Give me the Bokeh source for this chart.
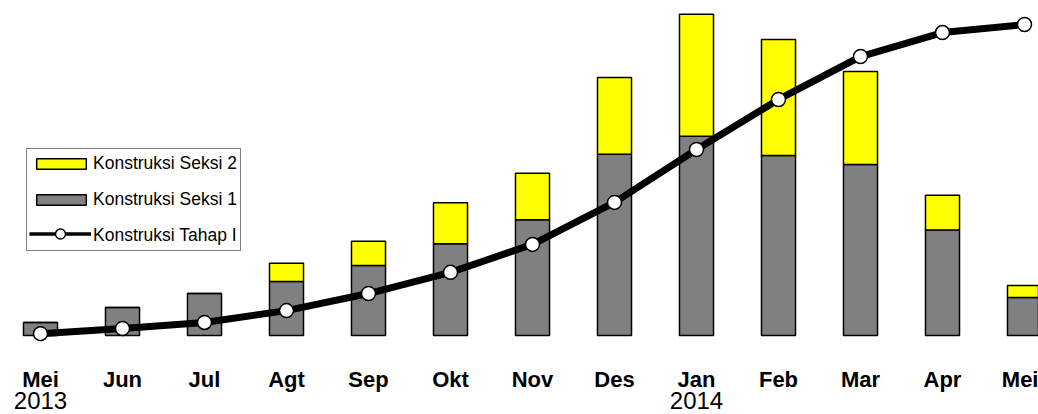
from bokeh.plotting import figure
from bokeh.models import Range1d, LinearAxis, FixedTicker, Legend, LegendItem, ColumnDataSource
from bokeh.embed import file_html
from bokeh.resources import INLINE

# ---- data ----
months = ["Mei", "Jun", "Jul", "Agt", "Sep", "Okt", "Nov", "Des", "Jan", "Feb", "Mar", "Apr", "Mei"]
years = ["2013", "2014"]
year_month_index = [0, 8]
seksi1 = [4.2, 9.0, 13.5, 17.4, 22.5, 29.5, 37.2, 58.3, 64.1, 57.9, 55.0, 33.9, 12.2]
seksi2 = [0.0, 0.0, 0.0, 5.8, 7.8, 13.2, 15.0, 24.7, 39.2, 37.3, 29.9, 11.2, 3.9]
tahap1 = [0.6, 2.25, 4.2, 8.0, 13.5, 20.3, 29.3, 42.8, 59.8, 75.9, 89.7, 97.4, 100.0]

xs = list(range(len(months)))
nan = float("nan")

p = figure(width=1038, height=414, output_backend="svg", toolbar_location=None,
           x_axis_type=None, y_axis_type=None,
           x_range=Range1d(-0.4878, 12.1707), y_range=Range1d(-1.93, 107.72),
           min_border_left=0, min_border_right=0, min_border_top=0, min_border_bottom=73)
p.outline_line_color = None
p.background_fill_color = "white"
p.border_fill_color = "white"

src = ColumnDataSource(dict(x=xs, s1=seksi1, s2=seksi2, t=tahap1))
bars = p.vbar_stack(["s1", "s2"], x="x", width=0.415, source=src,
                    fill_color=["#808080", "#FFFF00"], line_color="black", line_width=1.5)
p.line("x", "t", source=src, line_color="black", line_width=7)
p.scatter("x", "t", source=src, size=14, fill_color="white", line_color="black", line_width=1.5)

# legend-only glyphs
ghost = p.line(x=[nan], y=[nan], line_alpha=0)
dl = p.line(x=[nan], y=[nan], line_color="black", line_width=3.5)
ds = p.scatter(x=[nan], y=[nan], size=10, fill_color="white", line_color="black", line_width=1.5)

legend = Legend(items=[
    LegendItem(label="Konstruksi Seksi 2", renderers=[bars[1]]),
    LegendItem(label="Konstruksi Seksi 1", renderers=[bars[0]]),
    LegendItem(label="Konstruksi Tahap I", renderers=[ghost]),
], location=(26, 90))
legend.border_line_color = "black"
legend.border_line_width = 1.5
legend.background_fill_color = "white"
legend.background_fill_alpha = 1
legend.label_text_font = "Liberation Sans"
legend.label_text_font_size = "17.5px"
legend.label_text_color = "black"
legend.glyph_width = 62
legend.glyph_height = 13
legend.label_height = 23
legend.spacing = 13
legend.padding = 3
legend.margin = 0
legend.label_standoff = 1
p.add_layout(legend)

# overlay legend drawing only the line+marker symbol of the third entry
legend2 = Legend(items=[LegendItem(label=" ", renderers=[dl, ds])], location=(29, 95))
legend2.border_line_color = None
legend2.background_fill_alpha = 0
legend2.glyph_width = 62
legend2.glyph_height = 25
legend2.label_height = 25
legend2.label_text_font_size = "1px"
legend2.padding = 0
legend2.margin = 0
legend2.label_standoff = 0
p.add_layout(legend2)

ax1 = LinearAxis(ticker=FixedTicker(ticks=xs),
                 major_label_overrides={i: m for i, m in enumerate(months)})
ax2 = LinearAxis(ticker=FixedTicker(ticks=year_month_index),
                 major_label_overrides={i: y for i, y in zip(year_month_index, years)})
for ax, size, style, standoff in [(ax1, "22px", "bold", 25), (ax2, "24px", "normal", -3)]:
    ax.major_label_text_font = "Liberation Sans"
    ax.major_label_text_font_size = size
    ax.major_label_text_font_style = style
    ax.major_label_text_color = "black"
    ax.major_label_standoff = standoff
    ax.axis_line_color = None
    ax.major_tick_line_color = None
    ax.minor_tick_line_color = None
    ax.major_tick_out = 0
    ax.major_tick_in = 0
    p.add_layout(ax, "below")

open("out.html", "w").write(file_html(p, INLINE))
